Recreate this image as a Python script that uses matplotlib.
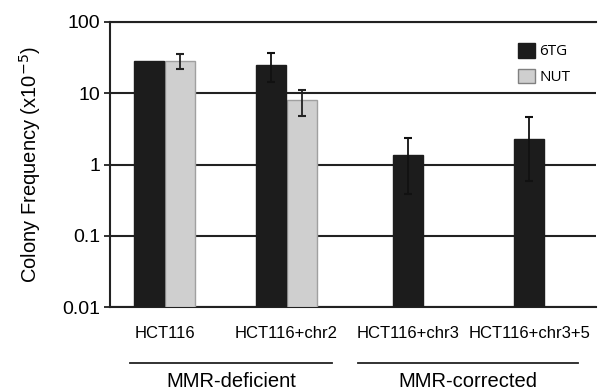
import numpy as np
import matplotlib
matplotlib.use("Agg")
import matplotlib.pyplot as plt
from matplotlib.patches import Patch
import matplotlib.transforms as mtransforms

plt.rcParams['font.family'] = ['Liberation Sans', 'DejaVu Sans']

cells = ['HCT116', 'HCT116+chr2', 'HCT116+chr3', 'HCT116+chr3+5']
tg = [28.5, 25.0, 1.36, 2.3]
tg_lo = [0, 10.5, 0.97, 1.72]
tg_hi = [0, 11.5, 0.98, 2.35]
nut = [28.5, 8.0, None, None]
nut_err = [6.8, 3.2, None, None]
groups = ['MMR-deficient', 'MMR-corrected']

fig = plt.figure(figsize=(6.15, 3.9), dpi=100)
ax = fig.add_axes([110/615, 83/390, 486/615, 285/390])

w = 0.247
centers = np.arange(4) + 0.45
for i in range(4):
    if nut[i] is None:
        xt = centers[i]
    else:
        xt = centers[i] - w/2 - 0.005
        xn = centers[i] + w/2 + 0.005
        ax.bar(xn, nut[i], w, bottom=0.01, color='#cfcfcf', edgecolor='#a0a0a0', lw=1, zorder=3)
        ax.errorbar(xn, nut[i], yerr=nut_err[i], fmt='none', ecolor='#222222', elinewidth=1.3,
                    capsize=3, capthick=1.5, zorder=4)
    ax.bar(xt, tg[i], w, bottom=0.01, color='#1c1c1c', edgecolor='#1c1c1c', lw=1, zorder=3)
    if tg_hi[i] > 0:
        ax.errorbar(xt, tg[i], yerr=[[tg_lo[i]], [tg_hi[i]]], fmt='none', ecolor='#111111',
                    elinewidth=1.3, capsize=3, capthick=1.5, zorder=4)

ax.set_yscale('log')
ax.set_ylim(0.01, 100)
ax.set_xlim(0, 4)
ax.set_yticks([0.01, 0.1, 1, 10, 100])
ax.set_yticklabels(['0.01', '0.1', '1', '10', '100'], fontsize=14)
ax.minorticks_off()
ax.yaxis.grid(True, color='#222222', lw=1.5, zorder=0)
ax.axhline(100, color='#222222', lw=1.5, clip_on=False, zorder=0)
ax.set_axisbelow(True)
ax.tick_params(axis='y', length=4, width=1.3, color='#222222', pad=3)
ax.set_xticks(centers)
ax.set_xticklabels(cells, fontsize=12)
ax.tick_params(axis='x', length=0, pad=14)
for s in ['top', 'right']:
    ax.spines[s].set_visible(False)
ax.spines['left'].set_linewidth(1.5)
ax.spines['left'].set_color('#222222')
ax.spines['bottom'].set_linewidth(1.5)
ax.spines['bottom'].set_color('#222222')
ax.set_ylabel('Colony Frequency (x10$^{-5}$)', fontsize=14.5)
ax.yaxis.set_label_coords(-0.137, 0.5)

trans = mtransforms.blended_transform_factory(ax.transData, ax.transAxes)
spans = [(0.165, 1.83), (2.04, 3.85)]
for (a, b), g in zip(spans, groups):
    ax.plot([a, b], [-0.196, -0.196], color='#222222', lw=1.3, transform=trans, clip_on=False)
    ax.text((a + b) / 2, -0.262, g, transform=trans, ha='center', va='center', fontsize=14.5)

handles = [Patch(facecolor='#1c1c1c', edgecolor='#1c1c1c', label='6TG'),
           Patch(facecolor='#cfcfcf', edgecolor='#808080', label='NUT')]
leg = ax.legend(handles=handles, loc='upper right', bbox_to_anchor=(0.975, 0.975), frameon=False,
                handlelength=1.1, handleheight=1.1, handletextpad=0.3,
                labelspacing=0.6, prop={'family': ['Open Sans', 'DejaVu Sans'], 'size': 11})

fig.savefig('out.png', dpi=100)
